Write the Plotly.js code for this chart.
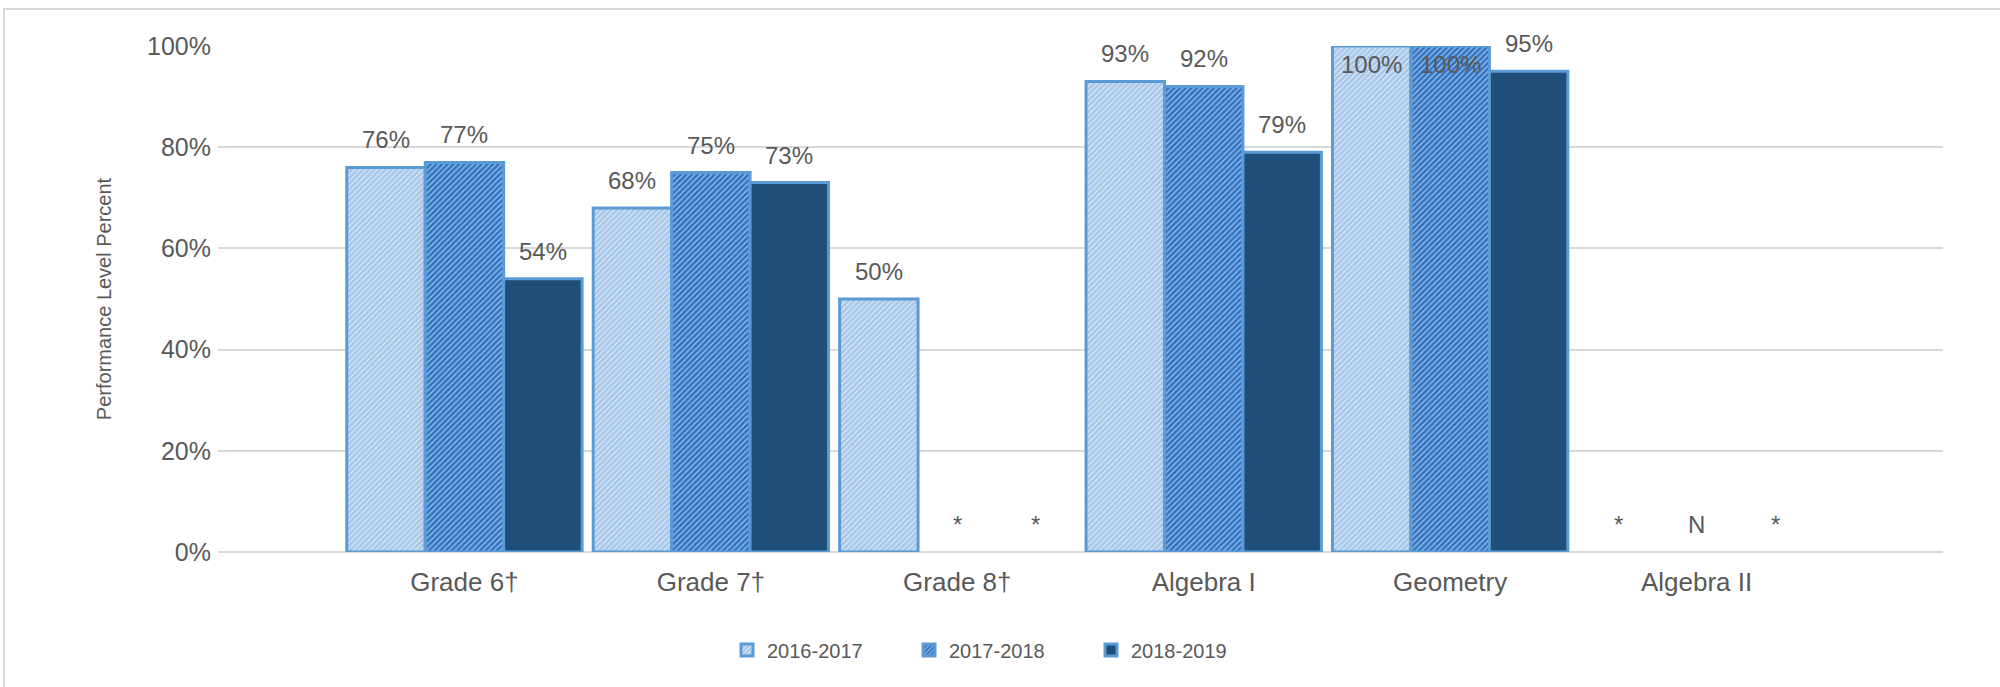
<!DOCTYPE html>
<html><head><meta charset="utf-8">
<script src="https://cdn.plot.ly/plotly-3.0.1.min.js"></script>
<style>
html,body{margin:0;padding:0;background:#fff;overflow:hidden;}
#chart{width:2000px;height:687px;}
#frame{position:absolute;left:3px;top:8px;width:2020px;height:720px;border:2px solid #d9d9d9;pointer-events:none;box-sizing:border-box;}
</style></head><body>
<div id="chart"></div><div id="frame"></div>
<script>
// ---- data ----
const categories = ['Grade 6†', 'Grade 7†', 'Grade 8†', 'Algebra I', 'Geometry', 'Algebra II'];
const seriesNames = ['2016-2017', '2017-2018', '2018-2019'];
const v2016_2017 = [76, 68, 50, 93, 100, null];
const v2017_2018 = [77, 75, null, 92, 100, null];
const v2018_2019 = [54, 73, null, 79, 95, null];
// labels shown where no bar is drawn (* = suppressed, N = no data)
const flag2016_2017 = [null, null, null, null, null, '*'];
const flag2017_2018 = [null, null, '*', null, null, 'N'];
const flag2018_2019 = [null, null, '*', null, null, '*'];
const yTicks = [0, 20, 40, 60, 80, 100];
const yTickText = ['0%', '20%', '40%', '60%', '80%', '100%'];

// ---- styles ----
const FONT = 'Liberation Sans, Arial, sans-serif';
const TXT = '#595959';
const BORDER = '#5b9bd5';
const BARGAP = 0.045;
const styles = [
  {color: '#a9c8ea', pattern: {shape: '/', bgcolor: '#a9c8ea', fgcolor: '#ffffff', size: 4, solidity: 0.22, fillmode: 'replace'}},
  {color: '#3274c2', pattern: {shape: '/', bgcolor: '#3274c2', fgcolor: '#9ec4ec', size: 4, solidity: 0.3, fillmode: 'replace'}},
  {color: '#1f4e79', pattern: {shape: ''}}
];
const values = [v2016_2017, v2017_2018, v2018_2019];
const flags = [flag2016_2017, flag2017_2018, flag2018_2019];

const traces = values.map((vals, s) => ({
  type: 'bar',
  name: seriesNames[s],
  x: categories,
  y: vals,
  marker: {
    color: styles[s].color,
    pattern: styles[s].pattern,
    line: {color: BORDER, width: 3}
  },
  hoverinfo: 'skip'
}));

// data labels placed through the axes' scales
const bw = (1 - BARGAP) / values.length;
const annotations = [];
values.forEach((vals, s) => {
  vals.forEach((v, c) => {
    const x = c + (s - (values.length - 1) / 2) * bw;
    const base = {xref: 'x', yref: 'y', x: x, showarrow: false,
      font: {family: FONT, size: 24, color: TXT}, xanchor: 'center'};
    if (v === null) {
      if (flags[s][c]) annotations.push(Object.assign(base, {y: 0, text: flags[s][c], yanchor: 'bottom', yshift: 12}));
    } else if (v >= 100) {
      annotations.push(Object.assign(base, {y: v, text: v + '%', yanchor: 'top', yshift: -3}));
    } else {
      annotations.push(Object.assign(base, {y: v, text: v + '%', yanchor: 'bottom', yshift: 12}));
    }
  });
});

const layout = {
  width: 2000, height: 687,
  margin: {l: 218, r: 57, t: 46, b: 135},
  paper_bgcolor: '#ffffff', plot_bgcolor: '#ffffff',
  font: {family: FONT, color: TXT},
  barmode: 'group', bargap: BARGAP, bargroupgap: 0,
  showlegend: true,
  legend: {orientation: 'h', xref: 'container', yref: 'container', x: 0.5, xanchor: 'center',
    y: 0.054, yanchor: 'middle', font: {family: FONT, size: 20, color: TXT},
    traceorder: 'normal', entrywidth: 137, entrywidthmode: 'pixels'},
  xaxis: {type: 'category', range: [-1, 6], showgrid: false, zeroline: false, showline: false,
    ticks: '', ticklabelstandoff: 12, tickfont: {family: FONT, size: 26, color: TXT}, fixedrange: true},
  yaxis: {range: [0, 100], tickmode: 'array', tickvals: yTicks, ticktext: yTickText, showgrid: true,
    gridcolor: '#d9d9d9', gridwidth: 2, zeroline: true, zerolinecolor: '#d9d9d9', zerolinewidth: 2,
    showline: false, ticks: '', ticklabelstandoff: 6, tickfont: {family: FONT, size: 25, color: TXT},
    title: {text: 'Performance Level Percent', font: {family: FONT, size: 20, color: TXT}, standoff: 30},
    fixedrange: true},
  annotations: annotations
};

Plotly.newPlot('chart', traces, layout, {staticPlot: true, displayModeBar: false});
</script>
</body></html>
